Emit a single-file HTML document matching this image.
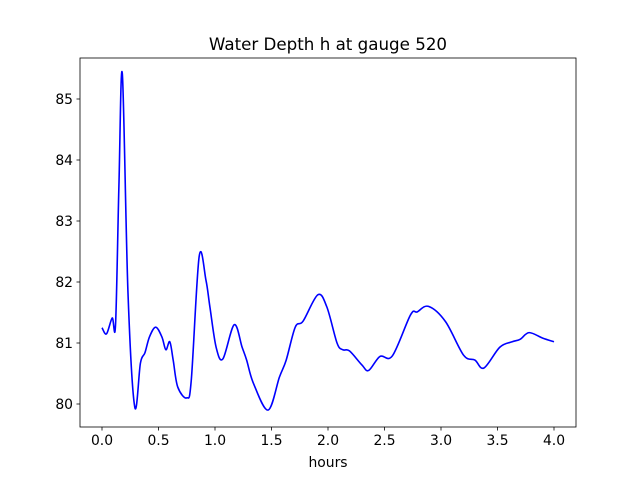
<!DOCTYPE html>
<html><head><meta charset="utf-8"><style>
body{margin:0;background:#fff;font-family:"Liberation Sans",sans-serif}
svg text{font-family:"DejaVu Sans","Liberation Sans",sans-serif;font-size:13.9px;fill:#000}
</style></head><body>
<svg width="640" height="480" id="c">
<rect width="640" height="480" fill="#fff"/>
<text x="328" y="50" text-anchor="middle" style="font-size:16.7px">Water Depth h at gauge 520</text>
<text x="328" y="467" text-anchor="middle">hours</text>
<g id="ax"></g>
<rect x="80" y="58" width="496" height="369" fill="none" stroke="#000" stroke-width="0.8"/>
</svg>
<script>
const times=[0,0.04,0.09,0.12,0.15,0.18,0.23,0.29,0.34,0.38,0.42,0.475,0.53,0.565,0.60,0.63,0.67,0.75,0.79,0.86,0.92,0.955,1.01,1.07,1.17,1.24,1.28,1.34,1.47,1.57,1.63,1.71,1.78,1.91,1.99,2.08,2.13,2.19,2.30,2.36,2.46,2.57,2.73,2.79,2.89,3.04,3.20,3.30,3.38,3.52,3.63,3.70,3.78,3.90,4.0];
const depth=[81.25,81.15,81.41,81.31,83.6,85.41,81.82,79.95,80.67,80.84,81.10,81.26,81.10,80.89,81.02,80.72,80.28,80.10,80.39,82.42,82.03,81.59,80.93,80.74,81.30,80.93,80.72,80.34,79.90,80.44,80.72,81.26,81.36,81.79,81.59,81.0,80.89,80.87,80.64,80.55,80.78,80.79,81.46,81.51,81.60,81.35,80.80,80.72,80.59,80.93,81.02,81.06,81.17,81.08,81.02];
const xTicks=[0,0.5,1,1.5,2,2.5,3,3.5,4];
const xTickLabels=["0.0","0.5","1.0","1.5","2.0","2.5","3.0","3.5","4.0"];
const yTicks=[80,81,82,83,84,85];
const yTickLabels=["80","81","82","83","84","85"];
const X=t=>102+t*113, Y=v=>404-(v-80)*61;
const ns="http://www.w3.org/2000/svg", g=document.getElementById('ax');
function mk(tag,a){const e=document.createElementNS(ns,tag);for(const k in a)e.setAttribute(k,a[k]);g.appendChild(e);return e;}
xTicks.forEach((t,i)=>{
 const l=mk('line',{x1:X(t),x2:X(t),y1:427,y2:430.5,stroke:'#000','stroke-width':0.8});
 
 
 const s=mk('text',{x:X(t),y:445,'text-anchor':'middle'});s.textContent=xTickLabels[i];
 
 
});
yTicks.forEach((v,i)=>{
 const l=mk('line',{x1:76.5,x2:80,y1:Y(v),y2:Y(v),stroke:'#000','stroke-width':0.8});
 
 
 const s=mk('text',{x:73,y:Y(v)+5,'text-anchor':'end'});s.textContent=yTickLabels[i];
 
 
});
const pts=times.map((t,i)=>[X(t),Y(depth[i])]);
let d='M'+pts[0][0]+','+pts[0][1];
for(let i=0;i<pts.length-1;i++){
 const p0=pts[Math.max(0,i-1)],p1=pts[i],p2=pts[i+1],p3=pts[Math.min(pts.length-1,i+2)];
 const c1=[p1[0]+(p2[0]-p0[0])/6,p1[1]+(p2[1]-p0[1])/6],c2=[p2[0]-(p3[0]-p1[0])/6,p2[1]-(p3[1]-p1[1])/6];
 d+=' C'+c1+' '+c2+' '+p2;
}
const path=mk('path',{d:d,fill:'none',stroke:'#0000ff','stroke-width':1.6,'stroke-linejoin':'round'});


</script>
</body></html>
